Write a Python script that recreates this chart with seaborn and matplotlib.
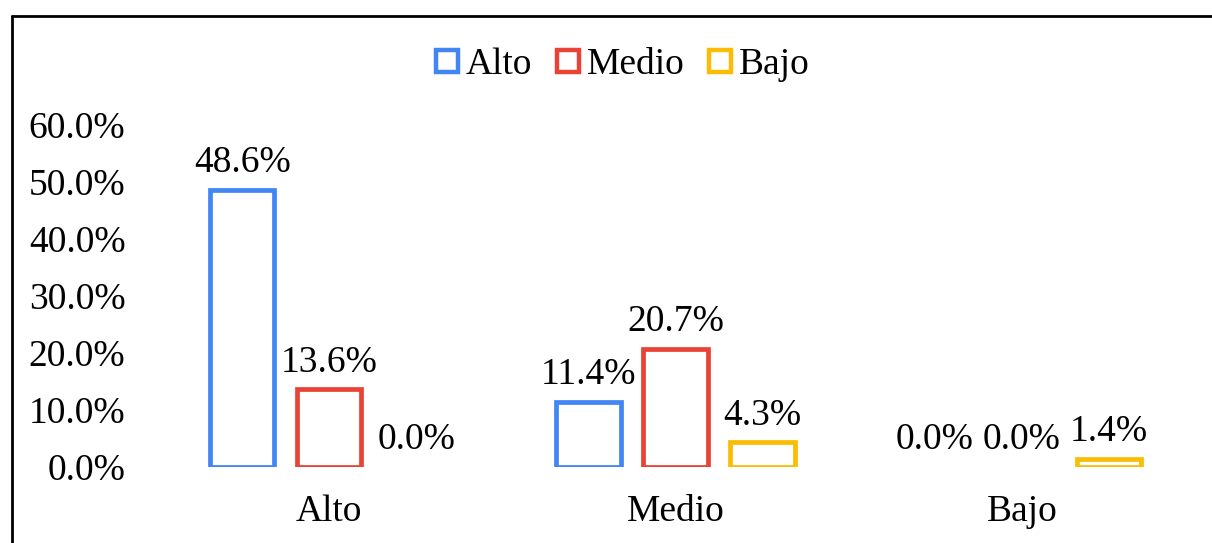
import matplotlib
matplotlib.use("Agg")
import matplotlib.pyplot as plt
from matplotlib.lines import Line2D
import seaborn as sns
import pandas as pd

categories = ["Alto", "Medio", "Bajo"]
series_names = ["Alto", "Medio", "Bajo"]
alto_vals = [48.6, 11.4, 0.0]
medio_vals = [13.6, 20.7, 0.0]
bajo_vals = [0.0, 4.3, 1.4]
y_ticks = [0, 10, 20, 30, 40, 50, 60]
colors = ["#4285F4", "#EA4335", "#FBBC04"]

sns.set_theme(style="white")
plt.rcParams["font.family"] = ["Liberation Serif", "DejaVu Serif"]

rows = []
for name, vals in zip(series_names, [alto_vals, medio_vals, bajo_vals]):
    for cat, v in zip(categories, vals):
        rows.append({"Categoria": cat, "Serie": name, "Valor": v})
df = pd.DataFrame(rows)

fig = plt.figure(figsize=(12.12, 5.43), dpi=100)
ax = fig.add_axes([156 / 1212, 76 / 543, 1039 / 1212, 342 / 543])

sns.barplot(data=df, x="Categoria", y="Valor", hue="Serie", order=categories,
            hue_order=series_names, palette=colors, fill=False, linewidth=3.4,
            width=0.753, gap=0.26, ax=ax, legend=False)

for cont, vals in zip(ax.containers, [alto_vals, medio_vals, bajo_vals]):
    ax.bar_label(cont, labels=[f"{v:.1f}%" for v in vals], padding=7,
                 fontsize=27, color="black", clip_on=False)
    for patch in cont.patches:
        if patch.get_height() == 0:
            patch.set_visible(False)

ax.set_xlim(-0.5, 2.5)
ax.set_ylim(0, 60)
ax.set_yticks(y_ticks)
ax.set_yticklabels([f"{t:.1f}%" for t in y_ticks])
ax.tick_params(axis="y", length=0, pad=22, labelsize=27, labelcolor="black")
ax.tick_params(axis="x", length=0, pad=20, labelsize=27, labelcolor="black")
ax.set_xlabel("")
ax.set_ylabel("")
for s in ax.spines.values():
    s.set_visible(False)
ax.grid(False)

handles = [Line2D([], [], linestyle="none", marker="s", markersize=16,
                  markerfacecolor="white", markeredgecolor=c, markeredgewidth=3.2)
           for c in colors]
fig.legend(handles, series_names, loc="center", bbox_to_anchor=(621 / 1212, 1 - 65 / 543),
           ncol=3, frameon=False, fontsize=27, handlelength=0.8, handletextpad=0.1,
           columnspacing=0.55, borderpad=0, labelcolor="black")

fig.add_artist(Line2D([12 / 1212, 1], [1 - 16 / 543, 1 - 16 / 543], color="black",
                      linewidth=2, transform=fig.transFigure))
fig.add_artist(Line2D([12 / 1212, 12 / 1212], [0, 1 - 16 / 543], color="black",
                      linewidth=2, transform=fig.transFigure))

fig.savefig("out.png", dpi=100, facecolor="white")
